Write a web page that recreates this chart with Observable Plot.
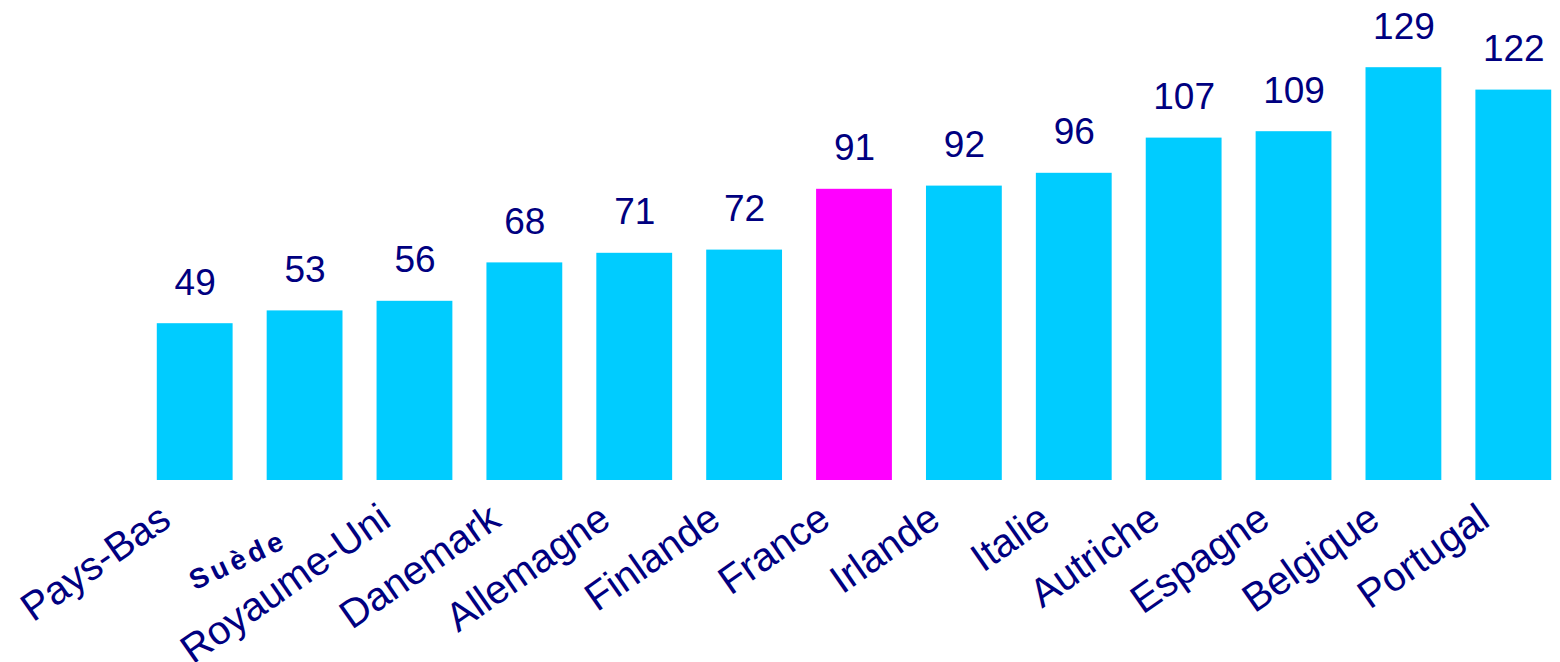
<!DOCTYPE html>
<html>
<head>
<meta charset="utf-8">
<script src="https://cdn.jsdelivr.net/npm/d3@7"></script>
<script src="https://cdn.jsdelivr.net/npm/@observablehq/plot@0.6"></script>
<style>
  html, body { margin: 0; padding: 0; background: #ffffff; }
  #chart { width: 1560px; height: 662px; overflow: hidden; }
  .suede text { letter-spacing: 4px; }
</style>
</head>
<body>
<div id="chart"></div>
<script>
const countries = ["Pays-Bas", "Suède", "Royaume-Uni", "Danemark", "Allemagne", "Finlande", "France", "Irlande", "Italie", "Autriche", "Espagne", "Belgique", "Portugal"];
const values = [49, 53, 56, 68, 71, 72, 91, 92, 96, 107, 109, 129, 122];
const highlighted = "France";
const oddLabel = "Suède";

const rows = countries.map((c, i) => ({country: c, value: values[i]}));

const chart = Plot.plot({
  width: 1560,
  height: 662,
  marginLeft: 148,
  marginRight: 0,
  marginTop: 32,
  marginBottom: 182,
  style: {fontFamily: "'Liberation Sans', Arial, sans-serif", background: "#ffffff"},
  x: {domain: countries, paddingInner: 0.31, paddingOuter: 0.08, round: false, axis: null},
  y: {domain: [0, 140], axis: null},
  marks: [
    Plot.barY(rows, {
      x: "country",
      y: "value",
      fill: d => d.country === highlighted ? "#FF00FF" : "#00CCFF"
    }),
    Plot.text(rows, {
      x: "country",
      y: "value",
      text: d => String(d.value),
      lineAnchor: "bottom",
      dy: -29,
      fontSize: 37,
      fill: "#000080"
    }),
    Plot.text(rows.filter(d => d.country !== oddLabel), {
      x: "country",
      frameAnchor: "bottom",
      text: "country",
      textAnchor: "end",
      lineAnchor: "bottom",
      rotate: -35,
      dx: -22,
      dy: 44,
      fontSize: 40,
      fill: "#000080"
    }),
    Plot.text(rows.filter(d => d.country === oddLabel), {
      x: "country",
      frameAnchor: "bottom",
      text: "country",
      textAnchor: "end",
      lineAnchor: "bottom",
      rotate: -25,
      dx: -16,
      dy: 66,
      fontSize: 28,
      fontWeight: "bold",
      fill: "#000080",
      className: "suede"
    })
  ]
});
document.getElementById("chart").appendChild(chart);
</script>
</body>
</html>
